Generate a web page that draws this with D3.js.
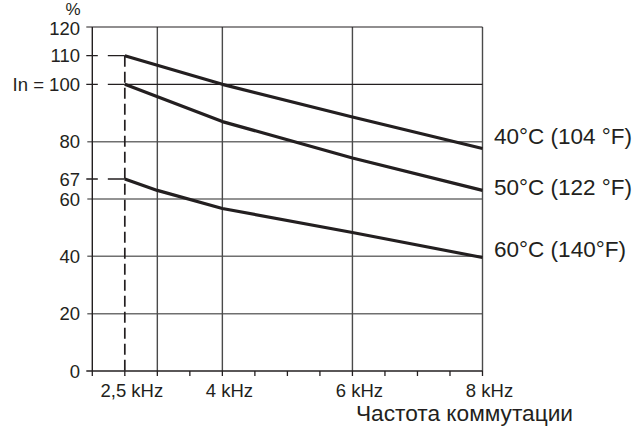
<!DOCTYPE html>
<html>
<head>
<meta charset="utf-8">
<script src="https://cdn.jsdelivr.net/npm/d3@7"></script>
<style>
html,body{margin:0;padding:0;background:#fff;}
svg{display:block;font-family:"Liberation Sans",Arial,sans-serif;}
</style>
</head>
<body>
<svg id="c" width="644" height="428"></svg>
<script>
// ---- data ----
const freqs40 = [2.5, 4, 6, 8];
const vals40  = [110, 100, 88.6, 77.6];
const freqs50 = [2.5, 4, 6, 8];
const vals50  = [100, 87, 74.3, 63];
const freqs60 = [2.5, 3, 4, 6, 8];
const vals60  = [67, 63, 56.7, 48.3, 39.6];
const seriesLabels = ["40°C (104 °F)", "50°C (122 °F)", "60°C (140°F)"];
const yTickValues = [0, 20, 40, 60, 67, 80, 100, 110, 120];
const yTickLabels = ["0", "20", "40", "60", "67", "80", "In = 100", "110", "120"];
const xTickValues = [2.5, 4, 6, 8];
const xTickLabels = ["2,5 kHz", "4 kHz", "6 kHz", "8 kHz"];
const xMinorTicks = [2, 2.5, 3, 3.5, 4, 4.5, 5, 5.5, 6, 6.5, 7, 7.5, 8];
const xGrid = [3, 4, 6, 8];
const yGrid = [20, 40, 60, 80];
const refLevels = [110, 100, 67];
const refFreq = 2.5;
const xTitle = "Частота коммутации";
const yUnit = "%";

// ---- layout ----
const svg = d3.select("#c");
const x = d3.scaleLinear().domain([2, 8]).range([92.3, 482.5]);
const y = d3.scaleLinear().domain([0, 120]).range([371, 27]);
const ink = "#231f20";

// horizontal grid (gray)
svg.append("g").selectAll("line").data(yGrid).join("line")
  .attr("x1", x(2) - 5).attr("x2", x(8))
  .attr("y1", d => y(d)).attr("y2", d => y(d))
  .attr("stroke", "#6f6f6f").attr("stroke-width", 1.5);

// vertical grid
svg.append("g").selectAll("line").data(xGrid).join("line")
  .attr("x1", d => x(d)).attr("x2", d => x(d))
  .attr("y1", y(120)).attr("y2", y(0))
  .attr("stroke", "#4a4a4a").attr("stroke-width", 1.4);

// top line at 120 and In=100 line
svg.append("line").attr("x1", x(2) - 6).attr("x2", x(8))
  .attr("y1", y(120)).attr("y2", y(120)).attr("stroke", ink).attr("stroke-width", 1.2);
svg.append("line").attr("x1", x(refFreq)).attr("x2", x(8))
  .attr("y1", y(100)).attr("y2", y(100)).attr("stroke", ink).attr("stroke-width", 1.2);

// left axis
svg.append("line").attr("x1", x(2)).attr("x2", x(2))
  .attr("y1", y(120)).attr("y2", y(0)).attr("stroke", ink).attr("stroke-width", 1.4);
// bottom axis
svg.append("line").attr("x1", x(2) - 6).attr("x2", x(8))
  .attr("y1", y(0)).attr("y2", y(0)).attr("stroke", ink).attr("stroke-width", 1.4);
// x minor ticks
svg.append("g").selectAll("line").data(xMinorTicks).join("line")
  .attr("x1", d => x(d)).attr("x2", d => x(d))
  .attr("y1", y(0)).attr("y2", y(0) + 5)
  .attr("stroke", ink).attr("stroke-width", 1.3);

// dashed reference lines
svg.append("g").selectAll("line").data(refLevels).join("line")
  .attr("x1", x(refFreq)).attr("x2", x(2) - 6)
  .attr("y1", d => y(d)).attr("y2", d => y(d))
  .attr("stroke", ink).attr("stroke-width", 1.4)
  .attr("stroke-dasharray", "17,10");
svg.append("line").attr("x1", x(refFreq)).attr("x2", x(refFreq))
  .attr("y1", y(110)).attr("y2", y(0) + 5)
  .attr("stroke", ink).attr("stroke-width", 1.7)
  .attr("stroke-dasharray", "11,5");

// curves
const line = d3.line().x(d => x(d[0])).y(d => y(d[1]));
const series = [
  d3.zip(freqs40, vals40),
  d3.zip(freqs50, vals50),
  d3.zip(freqs60, vals60)
];
svg.append("g").selectAll("path").data(series).join("path")
  .attr("d", line).attr("fill", "none")
  .attr("stroke", ink).attr("stroke-width", 3.2)
  .attr("stroke-linejoin", "round");

// series labels (placed next to line ends)
const labelWidths = [138, 138, 132];
const labelDy = [-5, 5, 0];
svg.append("g").selectAll("text").data(seriesLabels).join("text")
  .attr("x", 494)
  .attr("y", (d, i) => y(series[i][series[i].length - 1][1]) + labelDy[i])
  .attr("font-size", 22)
  .attr("fill", ink)
  .attr("textLength", (d, i) => labelWidths[i])
  .attr("lengthAdjust", "spacingAndGlyphs")
  .text(d => d);

// y tick labels
svg.append("g").selectAll("text").data(yTickValues).join("text")
  .attr("x", 80).attr("y", d => y(d) + (d === 120 ? 1.5 : 0)).attr("dy", "0.36em")
  .attr("text-anchor", "end").attr("font-size", 18.5).attr("fill", ink)
  .text((d, i) => yTickLabels[i]);
svg.append("text").attr("x", 73).attr("y", 14.5)
  .attr("text-anchor", "middle").attr("font-size", 17).attr("fill", ink)
  .text(yUnit);

// x tick labels
svg.append("g").selectAll("text").data(xTickValues).join("text")
  .attr("x", d => x(d) + 7).attr("y", 397)
  .attr("text-anchor", "middle").attr("font-size", 18.5).attr("fill", ink)
  .text((d, i) => xTickLabels[i]);

// x title
svg.append("text").attr("x", 356).attr("y", 421)
  .attr("font-size", 22).attr("fill", ink)
  .attr("textLength", 217).attr("lengthAdjust", "spacingAndGlyphs")
  .text(xTitle);
</script>
</body>
</html>
